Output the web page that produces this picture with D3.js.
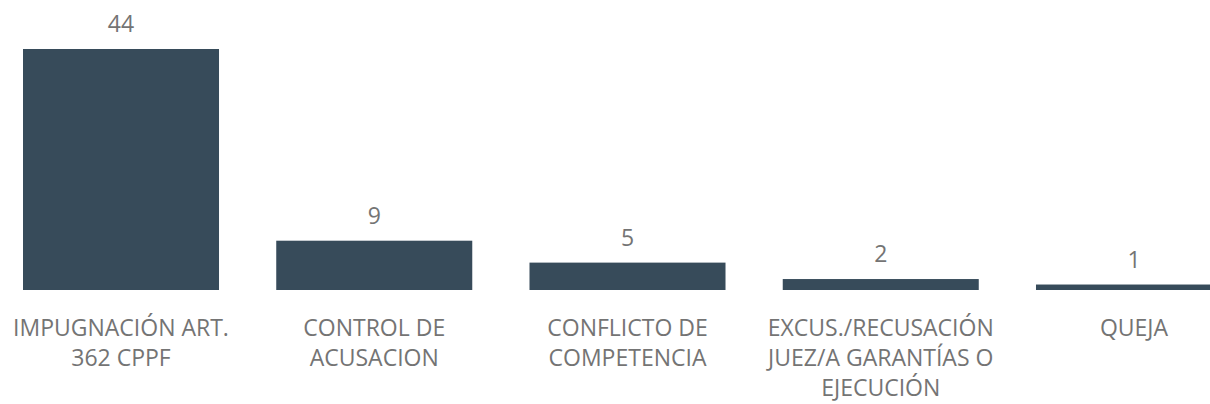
<!DOCTYPE html>
<html>
<head>
<meta charset="utf-8">
<script src="https://cdn.jsdelivr.net/npm/d3@7"></script>
<style>
  body { margin: 0; background: #fff; }
  svg { display: block; }
  .value { font-family: "Open Sans", sans-serif; font-size: 23px; fill: #747474; }
  .cat { font-family: "Open Sans", sans-serif; font-size: 23px; fill: #747474; }
</style>
</head>
<body>
<script>
// categories and counts
var categories = [
    "IMPUGNACIÓN ART. 362 CPPF",
    "CONTROL DE ACUSACION",
    "CONFLICTO DE COMPETENCIA",
    "EXCUS./RECUSACIÓN JUEZ/A GARANTÍAS O EJECUCIÓN",
    "QUEJA"
];
var counts = [44, 9, 5, 2, 1];

var width = 1210, height = 404;

var svg = d3.select("body").append("svg")
    .attr("width", width)
    .attr("height", height);

// band scale runs a bit past the right edge, like the original
var x = d3.scaleBand()
    .domain(categories)
    .range([23, 1232])
    .paddingInner(0.226)
    .paddingOuter(0);

var y = d3.scaleLinear()
    .domain([0, d3.max(counts)])
    .range([290, 49]);

var data = categories.map(function(c, i) { return { cat: c, val: counts[i] }; });

// bars
svg.selectAll(".bar")
    .data(data)
    .enter().append("rect")
    .attr("class", "bar")
    .attr("fill", "#374B5A")
    .attr("x", function(d) { return x(d.cat); })
    .attr("width", x.bandwidth())
    .attr("y", function(d) { return y(d.val); })
    .attr("height", function(d) { return y(0) - y(d.val); });

// value labels
svg.selectAll(".value")
    .data(data)
    .enter().append("text")
    .attr("class", "value")
    .attr("text-anchor", "middle")
    .attr("x", function(d) { return x(d.cat) + x.bandwidth() / 2; })
    .attr("y", function(d) { return y(d.val) - 17; })
    .text(function(d) { return d.val; });

// category labels, wrapped
var labels = svg.selectAll(".cat")
    .data(data)
    .enter().append("text")
    .attr("class", "cat")
    .attr("text-anchor", "middle")
    .attr("x", function(d) { return x(d.cat) + x.bandwidth() / 2; })
    .attr("y", 336);

labels.each(function(d) {
    wrap(d3.select(this), d.cat, 240, 30);
});

function wrap(text, str, maxw, lh)
{
    var words = str.split(" ");
    var cx = text.attr("x");
    var line = [];
    var tspan = text.append("tspan").attr("x", cx).attr("dy", 0);
    words.forEach(function(w) {
        line.push(w);
        tspan.text(line.join(" "));
        if (tspan.node().getComputedTextLength() > maxw && line.length > 1) {
            line.pop();
            tspan.text(line.join(" "));
            line = [w];
            tspan = text.append("tspan").attr("x", cx).attr("dy", lh).text(w);
        }
    });
}
</script>
</body>
</html>
